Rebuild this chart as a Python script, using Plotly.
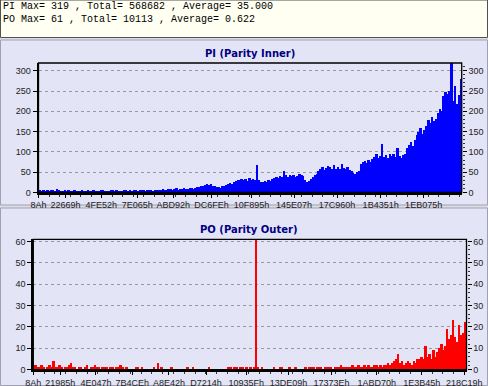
import plotly.graph_objects as go

W, H = 488, 386

# ---------------- data ----------------
pi_values = [
    6, 4, 5, 3, 5, 4, 6, 5, 4, 8,
    5, 4, 3, 5, 4, 6, 3, 4, 5, 4,
    3, 4, 5, 3, 4, 6, 4, 3, 5, 4,
    4, 3, 5, 6, 4, 3, 4, 5, 7, 4,
    5, 4, 3, 4, 6, 5, 4, 5, 4, 6,
    5, 4, 6, 5, 7, 4, 5, 6, 5, 4,
    6, 5, 7, 6, 8,
    7, 6, 8, 9, 7, 8, 10, 7, 9, 8, 10, 9, 8, 11, 10, 9,
    12, 14, 13, 15, 17, 18, 20, 19, 21,
    17, 15, 13, 14, 12, 15, 16,
    19, 22, 24, 21, 25,
    28, 32, 30, 34, 31, 33, 29, 35, 32, 34, 31,
    68,
    30, 27, 25, 28, 26, 30, 29,
    34, 36, 38, 35, 40, 37,
    53,
    42, 38, 44, 40, 43, 39, 41, 45, 42, 40,
    30, 26, 28, 33,
    38, 42, 45,
    52, 58, 62, 55,
    60, 66, 63, 58, 67, 59, 62, 57, 69, 60, 58, 64, 56, 52,
    48, 46, 50, 52,
    70, 75, 78, 72, 80, 76,
    82, 88, 95, 85, 90,
    120,
    88, 92, 85, 95, 90, 94, 88,
    110,
    90, 86, 92, 95,
    110, 118, 125, 115, 130,
    142, 150, 160, 145, 155,
    165, 178, 170, 185, 175, 182,
    195, 205, 200,
    238, 248, 242, 250,
    319,
    225, 262, 218, 240, 280,
]

po_values = [
    1, 2, 1, 1, 2, 1, 0, 1, 2, 1,
    4, 1, 1, 2, 1, 0, 1, 1, 2, 3,
    1, 1, 0, 1, 1, 0, 1, 2, 0, 1,
    1, 2, 1, 1, 0, 1, 1, 1, 0, 1,
    1, 0, 1, 1, 2, 1, 0, 1,
    0, 0, 0, 0, 1, 1, 0, 1, 0, 0, 0, 0,
    0, 1, 0, 3, 0, 1, 0, 0, 0, 0,
    1, 0, 0, 0, 0, 0, 0, 0, 1, 0,
    0, 1, 0, 0, 0, 0, 0, 0, 0, 1, 0, 0, 0, 0, 0, 0, 0, 0, 0, 1,
    1, 0, 1, 1, 0, 1, 1, 0, 1, 0, 1, 0, 1,
    61,
    1, 0, 1, 0, 0, 0, 0, 0, 1, 0, 0, 1, 1, 0, 0, 0, 1, 0, 0, 1, 0, 0, 0, 0, 1, 0, 1,
    1, 1, 0, 1, 1, 1, 0, 1, 1, 1, 1, 0, 1, 1, 1, 2, 1, 1, 1, 1,
    1, 2, 1, 1, 2, 1, 1, 2, 1, 2, 1, 1, 2, 2, 1, 2, 1, 2, 2, 3, 2, 3,
    4, 5,
    7,
    3, 4, 2, 3, 4, 3, 2, 4, 3, 5,
    5, 6, 5,
    11,
    6, 7, 5, 9, 6,
    8, 10, 12, 9, 11,
    19, 14, 16, 23, 15, 13, 21, 16, 17, 22,
]

pi_tick_labels = ["8Ah", "22669h", "4FE52h", "7E065h", "ABD92h", "DC6FEh",
                  "10F895h", "145E07h", "17C960h", "1B4351h", "1EB075h"]
po_tick_labels = ["8Ah", "21985h", "4E047h", "7B4CEh", "A8E42h", "D7214h",
                  "10935Fh", "13DE09h", "17373Eh", "1ABD70h", "1E3B45h", "218C19h"]
pi_y_ticks = [0, 50, 100, 150, 200, 250, 300]
po_y_ticks = [0, 10, 20, 30, 40, 50, 60]

pi_max, pi_total, pi_avg = 319, 568682, "35.000"
po_max, po_total, po_avg = 61, 10113, "0.622"

SECTOR_MAX = 2210000  # last sector shown on the x axis

# --------------- helpers ---------------
def fx(p):
    return p / W

def fy(p):
    return 1 - p / H

def sectors(vals):
    step = SECTOR_MAX / len(vals)
    return [(i + 0.5) * step for i in range(len(vals))], step

def hexvals(labels):
    return [int(t[:-1], 16) for t in labels]

pi_x, pi_step = sectors(pi_values)
po_x, po_step = sectors(po_values)

PANEL = "#E4E4F7"
PLOT = "#F0F0FB"
TICKFONT = dict(family="Liberation Sans, Arial, sans-serif", size=9, color="#222222")

fig = go.Figure()
fig.add_trace(go.Bar(x=pi_x, y=pi_values, width=pi_step, marker=dict(color="#0000FF", line=dict(width=0)),
                     xaxis="x", yaxis="y", showlegend=False, hoverinfo="skip"))
fig.add_trace(go.Scatter(x=[0], y=[0], mode="markers", marker=dict(opacity=0),
                         xaxis="x", yaxis="y3", showlegend=False, hoverinfo="skip"))
fig.add_trace(go.Bar(x=po_x, y=po_values, width=po_step, marker=dict(color="#FF0000", line=dict(width=0)),
                     xaxis="x2", yaxis="y2", showlegend=False, hoverinfo="skip"))
fig.add_trace(go.Scatter(x=[0], y=[0], mode="markers", marker=dict(opacity=0),
                         xaxis="x2", yaxis="y4", showlegend=False, hoverinfo="skip"))

def xax(domain, labels, anchor):
    return dict(domain=domain, anchor=anchor, range=[0, SECTOR_MAX], automargin=False,
                tickmode="array", tickvals=hexvals(labels), ticktext=labels, tickangle=0,
                ticks="outside", ticklen=3, tickcolor="black", tickfont=TICKFONT,
                showline=True, linecolor="black", linewidth=2, showgrid=False, zeroline=False,
                minor=dict(tickmode="linear", tick0=0, dtick=55000, ticks="outside", ticklen=2,
                           tickcolor="#333333", showgrid=False))

def yax(domain, rng, tvals, anchor):
    return dict(domain=domain, anchor=anchor, range=rng, tickmode="array", tickvals=tvals,
                automargin=False,
                ticks="outside", ticklen=4, tickcolor="black", tickfont=TICKFONT,
                showline=True, linecolor="black", linewidth=2, zeroline=False,
                showgrid=True, gridcolor="#9A9A9A", gridwidth=1, griddash="3px,3px")

def yax_right(over, rng, tvals, anchor, dt):
    return dict(overlaying=over, side="right", anchor=anchor, range=rng, tickmode="array",
                automargin=False,
                tickvals=tvals, ticks="outside", ticklen=4, tickcolor="black", tickfont=TICKFONT,
                showline=False, showgrid=False, zeroline=False,
                minor=dict(tickmode="linear", tick0=0, dtick=dt, ticks="outside", ticklen=2,
                           tickcolor="#333333", showgrid=False))

pi_xdom = [fx(38.5), fx(461.7)]
pi_ydom = [fy(192.5), fy(63)]
po_xdom = [fx(33.3), fx(466.5)]
po_ydom = [fy(369.7), fy(239.3)]

fig.update_layout(
    width=W, height=H, margin=dict(l=0, r=0, t=0, b=0, autoexpand=False),
    paper_bgcolor="#DCDCE8", plot_bgcolor=PLOT, bargap=0, barmode="overlay",
    xaxis=xax(pi_xdom, pi_tick_labels, "y"),
    yaxis=yax(pi_ydom, [0, pi_max], pi_y_ticks, "x"),
    yaxis3=yax_right("y", [0, pi_max], pi_y_ticks, "x", 10),
    xaxis2=xax(po_xdom, po_tick_labels, "y2"),
    yaxis2=yax(po_ydom, [0, po_max], po_y_ticks, "x2"),
    yaxis4=yax_right("y2", [0, po_max], po_y_ticks, "x2", 2),
)

shapes = [
    dict(type="rect", xref="paper", yref="paper", x0=fx(0.5), x1=fx(487.5), y0=fy(37.5), y1=fy(0),
         fillcolor="#FFFFF2", line=dict(color="#505050", width=1), layer="below"),
    dict(type="rect", xref="paper", yref="paper", x0=fx(0.5), x1=fx(487.5), y0=fy(205), y1=fy(40),
         fillcolor=PANEL, line=dict(color="#A0A0B0", width=1), layer="below"),
    dict(type="rect", xref="paper", yref="paper", x0=fx(0.5), x1=fx(487.5), y0=fy(385.5), y1=fy(208),
         fillcolor=PANEL, line=dict(color="#A0A0B0", width=1), layer="below"),
    dict(type="rect", xref="x domain", yref="y domain", x0=0, x1=1, y0=0, y1=1,
         line=dict(color="black", width=1.3), layer="above"),
    dict(type="rect", xref="x2 domain", yref="y2 domain", x0=0, x1=1, y0=0, y1=1,
         line=dict(color="black", width=1.3), layer="above"),
]
fig.update_layout(shapes=shapes)

MONO = dict(family="Liberation Mono, Courier New, monospace", size=10, color="black")
TITLE = dict(family="DejaVu Sans, Verdana, sans-serif", size=10, color="#000080")
line1 = f"PI Max= {pi_max} , Total= {pi_total} , Average= {pi_avg}"
line2 = f"PO Max= {po_max} , Total= {po_total} , Average= {po_avg}"
annotations = [
    dict(text=line1, x=fx(1), y=fy(7), xref="paper", yref="paper", xanchor="left", yanchor="middle",
         showarrow=False, font=MONO),
    dict(text=line2, x=fx(1), y=fy(20), xref="paper", yref="paper", xanchor="left", yanchor="middle",
         showarrow=False, font=MONO),
    dict(text="<b>PI (Parity Inner)</b>", x=fx(250), y=fy(53), xref="paper", yref="paper",
         xanchor="center", yanchor="middle", showarrow=False, font=TITLE),
    dict(text="<b>PO (Parity Outer)</b>", x=fx(249), y=fy(229), xref="paper", yref="paper",
         xanchor="center", yanchor="middle", showarrow=False, font=TITLE),
]
fig.update_layout(annotations=annotations)

post = (
    "document.documentElement.style.margin='0';"
    "document.body.style.margin='0';document.body.style.padding='0';"
    "document.body.style.overflow='hidden';"
)
fig.write_html("out.html", config={"displayModeBar": False}, post_script=post)
